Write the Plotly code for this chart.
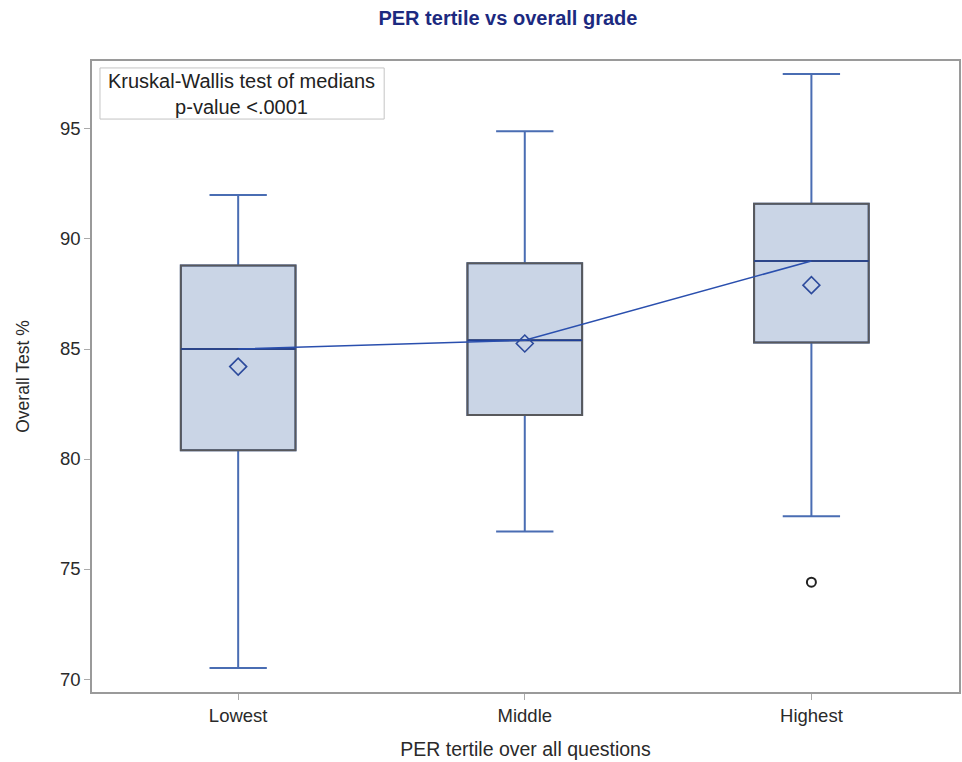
import plotly.graph_objects as go

categories = ["Lowest", "Middle", "Highest"]
q1 = [80.4, 82.0, 85.3]
median = [85.0, 85.4, 89.0]
q3 = [88.8, 88.9, 91.6]
lower_whisker = [70.5, 76.7, 77.4]
upper_whisker = [92.0, 94.9, 97.5]
means = [84.2, 85.25, 87.9]
outlier_cat = ["Highest"]
outlier_val = [74.4]

FONT = "Liberation Sans, Arial, sans-serif"
BOX_W = 0.4

fig = go.Figure()
# whiskers + fill (blue whiskers)
fig.add_trace(go.Box(
    x=categories, q1=q1, median=median, q3=q3,
    lowerfence=lower_whisker, upperfence=upper_whisker,
    width=BOX_W, whiskerwidth=0.5,
    fillcolor="#cad5e6", line=dict(color="#4a6db3", width=2),
    showlegend=False, hoverinfo="skip", boxpoints=False))
# gray box outline
fig.add_trace(go.Box(
    x=categories, q1=q1, median=median, q3=q3,
    lowerfence=q1, upperfence=q3,
    width=BOX_W, whiskerwidth=0,
    fillcolor="rgba(0,0,0,0)", line=dict(color="#58595c", width=2),
    showlegend=False, hoverinfo="skip", boxpoints=False))
# blue median line
fig.add_trace(go.Box(
    x=categories, q1=median, median=median, q3=median,
    lowerfence=median, upperfence=median,
    width=BOX_W, whiskerwidth=0,
    fillcolor="rgba(0,0,0,0)", line=dict(color="#1e3f98", width=1.5),
    showlegend=False, hoverinfo="skip", boxpoints=False))
# connecting line through medians
fig.add_trace(go.Scatter(
    x=categories, y=median, mode="lines",
    line=dict(color="#2a4fae", width=1.5),
    showlegend=False, hoverinfo="skip"))
# means
fig.add_trace(go.Scatter(
    x=categories, y=means, mode="markers",
    marker=dict(symbol="diamond-open", size=13, color="#2c4a9c", line=dict(width=1.6)),
    showlegend=False, hoverinfo="skip"))
# outlier
fig.add_trace(go.Scatter(
    x=outlier_cat, y=outlier_val, mode="markers",
    marker=dict(symbol="circle-open", size=9, color="#222222", line=dict(width=2)),
    showlegend=False, hoverinfo="skip"))

fig.update_layout(
    width=962, height=762,
    margin=dict(l=92, r=1, t=61, b=70),
    paper_bgcolor="white", plot_bgcolor="white",
    boxmode="overlay",
    font=dict(family=FONT, color="#333333"),
    title=dict(text="<b>PER tertile vs overall grade</b>", x=0.528, xanchor="center",
               xref="container", yref="container",
               y=0.977, yanchor="middle",
               font=dict(family=FONT, size=20, color="#1c2a80")),
    xaxis=dict(
        type="category", range=[-0.51, 2.515],
        showline=True, linecolor="#9a9a9a", linewidth=1.5, mirror=True,
        ticks="outside", ticklen=6, tickcolor="#aaaaaa",
        showgrid=False, zeroline=False,
        tickfont=dict(size=18.5, color="#2a2a2a"),
        title=dict(text="PER tertile over all questions", font=dict(size=19.5, color="#2a2a2a"), standoff=17),
    ),
    yaxis=dict(
        range=[69.41, 98.09],
        tickvals=[70, 75, 80, 85, 90, 95],
        showline=True, linecolor="#9a9a9a", linewidth=1.5, mirror=True,
        ticks="outside", ticklen=6, tickcolor="#aaaaaa",
        showgrid=False, zeroline=False,
        tickfont=dict(size=18.5, color="#2a2a2a"),
        title=dict(text="Overall Test %", font=dict(size=17.5, color="#2a2a2a"), standoff=26),
    ),
    shapes=[dict(type="rect", xref="paper", yref="paper",
                 x0=0.0092, x1=0.337, y0=0.908, y1=0.989,
                 line=dict(color="#c4c4c4", width=1), fillcolor="white", layer="above")],
    annotations=[dict(
        text="Kruskal-Wallis test of medians<br>p-value <.0001",
        xref="paper", yref="paper", x=0.173, y=0.947, xanchor="center", yanchor="middle",
        showarrow=False, align="center",
        font=dict(family=FONT, size=20, color="#222222"),
    )],
)

fig.write_html("out.html", config={"displayModeBar": False},
               post_script="document.body.style.margin='0px';")
